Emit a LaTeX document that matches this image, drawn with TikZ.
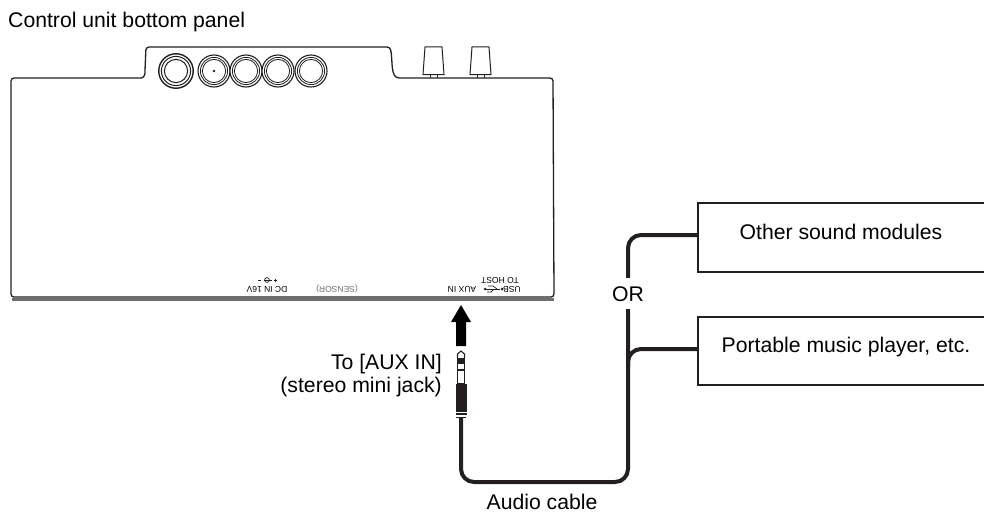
\documentclass[tikz,border=0pt]{standalone}
\usepackage{xcolor}
\usepackage{fontspec}
\setmainfont{Liberation Sans}
\usetikzlibrary{arrows.meta,positioning}
\definecolor{figureline}{RGB}{35,31,32}
\definecolor{labelgrey}{RGB}{110,110,110}

\begin{document}
\begin{tikzpicture}[
    x=1pt, y=-1pt,
    font=\fontsize{21.2}{27}\selectfont,
    outline/.style={draw=figureline, line width=1.3pt},
    knob/.style={circle, draw=figureline, fill=white, line width=1.1pt, minimum size=32pt, inner sep=0pt},
    knobring/.style={draw=figureline, line width=.8pt},
    devicebox/.style={draw=figureline, line width=1.5pt, minimum width=290pt, inner sep=0pt, anchor=north west},
    cable/.style={draw=figureline, line width=4pt, rounded corners=13pt},
    tiny/.style={font=\fontsize{8.5}{10}\selectfont, rotate=180, inner sep=0pt}
  ]
    \useasboundingbox (0,0) rectangle (984,511);
    \clip (0,0) rectangle (984,511);
    \node[anchor=base west, inner sep=0pt] (paneltitle) at (8,28) {Control unit bottom panel};

    % panel body
    \draw[outline, rounded corners=3pt] (11,297) -- (11,78) -- (138,78) .. controls (144,78) and (145,74) .. (145,70) -- (146,47) -- (390,47) .. controls (393,60) and (390,78) .. (402,78) -- (553,78) -- (554,297) -- cycle;
    \fill[labelgrey] (12,298) rectangle (554,300.5);

    \foreach \kx/\kname in {214/knobb, 246/knobc, 278/knobd, 311/knobe} {
      \node[knob] (\kname) at (\kx,71) {};
      \draw[knobring] (\kname) circle (13.6pt) circle (11.6pt);
    }
    \node[knob, line width=1.4pt, minimum size=34.5pt] (knoba) at (176,71) {};
    \draw[knobring, line width=1pt] (knoba) circle (14.6pt) circle (11.6pt);
    \fill[figureline] (knobb) circle (1.4pt);

    \foreach \fx in {433.5, 480.5} {
      \draw[outline, line width=1pt] (\fx-8.5,47) -- (\fx+8.5,47) -- (\fx+10.5,74.5) -- (\fx-10.5,74.5) -- cycle;
      \draw[outline, line width=.7pt] (\fx-3.5,74.5) -- (\fx-3.5,78) (\fx+3.5,74.5) -- (\fx+3.5,78);
    }

    % upside down labels
    \node[tiny] (dcin) at (267,289) {DC IN 16V};
    \node[tiny, text=labelgrey] (sensor) at (337,289) {(SENSOR)};
    \node[tiny] (auxin) at (462,289) {AUX IN};
    \node[tiny] (usb) at (512,289) {USB};
    \node[tiny] (tohost) at (500,280) {TO HOST};
    \draw[figureline, line width=.7pt] (258,280) -- (261,280) (264,280) -- (272,280) (274,280) -- (277,280) (275.5,278.5) -- (275.5,281.5);
    \draw[figureline, line width=.7pt] (267,280) circle (2.4pt);
    \draw[figureline, line width=.7pt, -{Latex[length=3pt,width=3pt]}] (500,289) -- (483,289);
    \draw[figureline, line width=.7pt] (497,289) -- (493,286) -- (488,286) (494,289) -- (491,292) -- (487,292);
    \fill[figureline] (502,289) circle (1.5pt);

    % jack and arrow
    \fill[black] (461,305) -- (471,322) -- (466,322) -- (466,346) -- (456,346) -- (456,322) -- (451,322) -- cycle;
    \coordinate (jacktail) at (461,418);
    \draw[figureline, line width=1.1pt] (457.5,358) -- (457.5,354) -- (461,351) -- (464.5,354) -- (464.5,358);
    \fill[figureline] (456.8,357.5) rectangle (465.2,363);
    \draw[figureline, line width=1.1pt] (457.3,363) rectangle (464.7,384);
    \fill[figureline] (457,369) rectangle (465,371);
    \fill[figureline] (455.5,384) rectangle (467,412);
    \fill[figureline] (455.5,413) rectangle (467,415);
    \fill[figureline] (456,416.5) rectangle (466,418);

    % boxes
    \node[devicebox, minimum height=69pt] (othermodules) at (697,202) {};
    \node[devicebox, minimum height=68pt] (portable) at (697,316) {};
    \node[anchor=base, inner sep=0pt] (otherlabel) at (841,239) {Other sound modules};
    \node[anchor=base, inner sep=0pt] (portablelabel) at (846,352) {Portable music player, etc.};

    % cable
    \coordinate (cablelow) at (461,482);
    \coordinate (cableright) at (628,482);
    \coordinate (cabletop) at (628,235);
    \coordinate (branchfoot) at (628,367);
    \draw[cable] (jacktail) -- (cablelow) -- (cableright) -- (cabletop) -- (othermodules.west |- cabletop);
    \draw[cable] (branchfoot) -- (628,349) -- (portable.west |- 0,349);
    \node[fill=white, inner sep=0pt, minimum height=31pt, minimum width=34pt] (orlabel) at (628,293.5) {};
    \node[anchor=base, inner sep=0pt] (ortext) at (628,301) {OR};

    \node[anchor=base east, inner sep=0pt] (jacklabel) at (442,369) {To [AUX IN]};
    \node[anchor=base east, inner sep=0pt] (jacksub) at (442,392) {(stereo mini jack)};
    \node[anchor=base, inner sep=0pt] (cablelabel) at (542,509) {Audio cable};
  \end{tikzpicture}
\end{document}
